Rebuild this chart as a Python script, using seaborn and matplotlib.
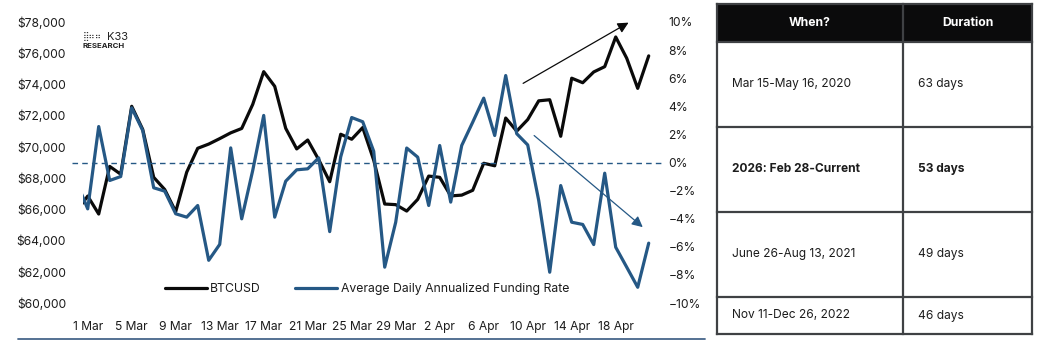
import pandas as pd
import matplotlib.pyplot as plt
from matplotlib.patches import Rectangle
from matplotlib.lines import Line2D
import seaborn as sns

sns.set_theme(style="white")
plt.rcParams['font.family'] = ['Inter', 'DejaVu Sans']

BLACK = '#0a0a0a'
BLUE = '#255885'
TEXT = '#1c1c1c'

# --- dati ---
dates = pd.date_range("2026-02-28", "2026-04-21", freq="D")
btc = [65900, 66850, 65700, 68750, 68250, 72600, 71120, 68050, 67270, 65850,
       68380, 69910, 70180, 70530, 70900, 71180, 72720, 74820, 73880, 71190,
       69870, 70440, 69180, 67770, 70810, 70490, 71240, 69150, 66340, 66300,
       65890, 66640, 68130, 68050, 66860, 66910, 67220, 68950, 68790, 71850,
       71010, 71750, 72950, 73020, 70680, 74400, 74110, 74800, 75140, 77040,
       75680, 73750, 75830]
funding = [-1.4, -3.3, 2.56, -1.28, -1.0, 3.89, 2.28, -1.8, -2.04, -3.65,
           -3.89, -3.06, -6.96, -5.83, 1.04, -4.01, -0.57, 3.35, -3.89, -1.33,
           -0.52, -0.45, 0.33, -4.92, 0.4, 3.2, 2.9, 0.8, -7.45, -4.25,
           1.03, 0.38, -3.06, 1.21, -2.82, 1.21, 2.87, 4.58, 1.92, 6.19,
           2.05, 1.25, -2.7, -7.81, -1.64, -4.25, -4.41, -5.84, -0.76, -6.03,
           -7.45, -8.88, -5.74]
tick_dates = dates[1::4]
btc_ticks = list(range(60000, 78001, 2000))
rate_ticks = list(range(-10, 11, 2))

periods = ["Mar 15-May 16, 2020", "2026: Feb 28-Current",
           "June 26-Aug 13, 2021", "Nov 11-Dec 26, 2022"]
durations = ["63 days", "53 days", "49 days", "46 days"]
header = ["When?", "Duration"]

W, H = 1044, 343
fig = plt.figure(figsize=(W / 100, H / 100), dpi=100)

def fx(px):
    return px / W

def fy(py):
    return 1 - py / H

# --- grafico a linee ---
ax = fig.add_axes([fx(82.7), fy(303), fx(663 - 82.7), (303 - 22) / H])
sns.lineplot(x=dates, y=btc, ax=ax, color=BLACK, linewidth=2.3)
axr = ax.twinx()
sns.lineplot(x=dates, y=funding, ax=axr, color=BLUE, linewidth=2.3)

ax.set_xlim(pd.Timestamp("2026-02-28 13:05"), pd.Timestamp("2026-04-22 07:10"))
ax.set_ylim(60000, 78000)
axr.set_ylim(-10, 10)
ax.set_yticks(btc_ticks)
ax.set_yticklabels([f"${v:,}" for v in btc_ticks])
axr.set_yticks(rate_ticks)
axr.set_yticklabels([f"{v}%".replace("-", "\u2212") for v in rate_ticks])
ax.set_xticks(tick_dates)
ax.set_xticklabels([f"{d.day} {d:%b}" for d in tick_dates])

for a in (ax, axr):
    a.set_xlabel("")
    a.set_ylabel("")
    for s in a.spines.values():
        s.set_visible(False)
    a.grid(False)
ax.tick_params(axis='y', length=0, pad=12, labelsize=8.7, labelcolor=TEXT)
ax.tick_params(axis='x', length=0, pad=13, labelsize=8.7, labelcolor=TEXT)
axr.tick_params(axis='y', length=0, pad=4, labelsize=8.7, labelcolor=TEXT)

# linea dello zero
axr.axhline(0, xmin=-0.018, xmax=1.0, color=BLUE, lw=1.0, ls=(0, (4, 3)),
            clip_on=False, zorder=1)

# frecce
ax.annotate("", xy=(pd.Timestamp("2026-04-19 04:00"), 77960),
            xytext=(pd.Timestamp("2026-04-09 14:00"), 74070),
            arrowprops=dict(arrowstyle='-|>', color=BLACK, lw=0.9,
                            mutation_scale=16, shrinkA=0, shrinkB=0))
axr.annotate("", xy=(pd.Timestamp("2026-04-20 11:00"), -4.6),
             xytext=(pd.Timestamp("2026-04-10 14:00"), 1.92),
             arrowprops=dict(arrowstyle='-|>', color=BLUE, lw=0.9,
                             mutation_scale=16, shrinkA=0, shrinkB=0))

leg = axr.legend(handles=[ax.lines[0], axr.lines[0]],
                 labels=["BTCUSD", "Average Daily Annualized Funding Rate"],
                 loc='center', bbox_to_anchor=(0.49, 0.05), ncol=2,
                 frameon=False, fontsize=8.8, handlelength=3.4,
                 handletextpad=0.3, columnspacing=2.8)
for t in leg.get_texts():
    t.set_color(TEXT)

# logo
fig.text(fx(82.5), fy(36.5), "\u28ff\u2836\u2836", fontsize=6.3, color='#333333',
         va='center', ha='left', family=['DejaVu Sans'])
fig.text(fx(106.5), fy(36.5), "K33", fontsize=8, color='#222222', va='center', ha='left')
fig.text(fx(82.5), fy(46), "RESEARCH", fontsize=5.6, weight='bold', color='#222222',
         va='center', ha='left')

# linea di base
fig.add_artist(Line2D([fx(18), fx(705)], [fy(339), fy(339)], color='#46668a', lw=1.3))

# --- tabella ---
tx0, tx1, tx2 = 716.7, 903.3, 1031.7
rows_y = [4, 41.7, 126.7, 211.7, 296.7, 334.3]
tab = fig.add_axes([0, 0, 1, 1])
tab.set_xlim(0, W)
tab.set_ylim(H, 0)
tab.axis('off')
tab.patch.set_alpha(0)

tab.add_patch(Rectangle((tx0, rows_y[0]), tx2 - tx0, rows_y[1] - rows_y[0],
                        facecolor='#0b0b0c', edgecolor='none'))
border = '#3f4144'
for y in rows_y:
    tab.plot([tx0, tx2], [y, y], color=border, lw=1.6, solid_capstyle='projecting')
for x in (tx0, tx1, tx2):
    tab.plot([x, x], [rows_y[0], rows_y[-1]], color=border, lw=1.6,
             solid_capstyle='projecting')

hy = (rows_y[0] + rows_y[1]) / 2
tab.text((tx0 + tx1) / 2, hy, header[0], color='white', weight='bold',
         fontsize=8.8, ha='center', va='center')
tab.text((tx1 + tx2) / 2, hy, header[1], color='white', weight='bold',
         fontsize=8.8, ha='center', va='center')
for i, (p, d) in enumerate(zip(periods, durations)):
    cy = (rows_y[i + 1] + rows_y[i + 2]) / 2
    w = 'bold' if i == 1 else 'normal'
    tab.text(tx0 + 15, cy, p, color=TEXT, fontsize=8.6, weight=w, ha='left', va='center')
    tab.text(tx1 + 15, cy, d, color=TEXT, fontsize=8.6, weight=w, ha='left', va='center')

plt.savefig("out.png", dpi=100)
plt.close()
